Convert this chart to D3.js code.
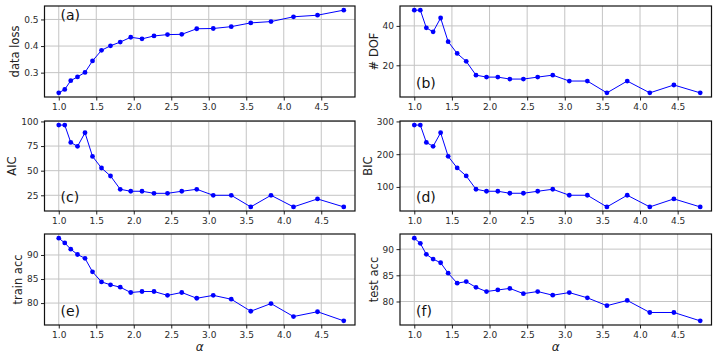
<!DOCTYPE html>
<html lang="en">
<head>
<meta charset="UTF-8">
<script src="https://d3js.org/d3.v7.min.js"></script>
<style>
body {margin: 0; background: white;}
svg {display: block; font-family: "DejaVu Sans", sans-serif;}
.tick text {fill: #2a2a2a; font-size: 9px; font-family: "DejaVu Sans", sans-serif;}
.tick line {stroke: #222;}
.grid line {stroke: #c4c4c4; stroke-width: 1;}
</style>
</head>
<body>
<svg width="719" height="360"></svg>
<script>
var alpha = [1.00, 1.08, 1.16, 1.25, 1.35, 1.45, 1.57, 1.69, 1.82, 1.96, 2.11, 2.27, 2.45, 2.64, 2.84, 3.06, 3.30, 3.56, 3.83, 4.13, 4.45, 4.80];
var dataLoss = [0.224, 0.237, 0.270, 0.284, 0.301, 0.344, 0.384, 0.401, 0.415, 0.433, 0.427, 0.438, 0.443, 0.444, 0.465, 0.466, 0.473, 0.487, 0.492, 0.510, 0.516, 0.535];
var dof = [48, 48, 39, 37, 44, 32, 26, 22, 15, 14, 14, 13, 13, 14, 15, 12, 12, 6, 12, 6, 10, 6];
var aic = [96.3, 96.3, 78.7, 74.7, 88.5, 64.5, 52.7, 44.6, 31.1, 29.1, 29.1, 27.0, 27.0, 29.1, 31.1, 25.0, 25.0, 13.2, 25.0, 13.2, 21.3, 13.2];
var bic = [288.8, 288.8, 236, 223.9, 265.5, 193.4, 157.9, 133.5, 92.9, 86.8, 86.8, 80.7, 80.7, 86.8, 92.9, 74.6, 74.6, 39, 74.6, 39, 63.5, 39];
var trainAcc = [93.5, 92.5, 91.2, 90.1, 89.3, 86.5, 84.4, 83.8, 83.3, 82.2, 82.4, 82.4, 81.6, 82.2, 81.0, 81.6, 80.8, 78.3, 79.9, 77.2, 78.2, 76.3];
var testAcc = [92.1, 91.1, 89.0, 88.1, 87.4, 85.4, 83.5, 83.8, 82.7, 81.9, 82.2, 82.5, 81.5, 81.9, 81.2, 81.7, 80.7, 79.2, 80.2, 77.9, 77.9, 76.3];

var xTicks = [1.0, 1.5, 2.0, 2.5, 3.0, 3.5, 4.0, 4.5];
var yLabels = ["data loss", "# DOF", "AIC", "BIC", "train acc", "test acc"];
var panelTags = ["(a)", "(b)", "(c)", "(d)", "(e)", "(f)"];
var yTicks = [[0.3, 0.4, 0.5], [20, 40], [25, 50, 75, 100], [100, 200, 300], [80, 85, 90], [80, 85, 90]];
var series = [dataLoss, dof, aic, bic, trainAcc, testAcc];

var cols = [[44.5, 355], [400, 711.5]];
var rows = [[6, 97], [121, 211], [234, 325]];

var svg = d3.select("svg");

series.forEach(function(vals, i) {
    var c = cols[i % 2], r = rows[Math.floor(i / 2)];
    var w = c[1] - c[0], h = r[1] - r[0];
    var g = svg.append("g").attr("transform", "translate(" + c[0] + "," + r[0] + ")");

    var x = d3.scaleLinear().domain([0.81, 4.95]).range([0, w]);
    var lo = d3.min(vals), hi = d3.max(vals), m = (hi - lo) * 0.05;
    var y = d3.scaleLinear().domain([lo - m, hi + m]).range([h, 0]);

    g.append("g").attr("class", "grid")
        .selectAll("line").data(xTicks).enter().append("line")
        .attr("x1", d => x(d)).attr("x2", d => x(d)).attr("y1", 0).attr("y2", h);
    g.append("g").attr("class", "grid")
        .selectAll("line").data(yTicks[i]).enter().append("line")
        .attr("x1", 0).attr("x2", w).attr("y1", d => y(d)).attr("y2", d => y(d));

    var xa = g.append("g").attr("transform", "translate(0," + h + ")")
        .call(d3.axisBottom(x).tickValues(xTicks).tickFormat(d3.format(".1f")).tickSize(3.5).tickSizeOuter(0));
    var ya = g.append("g")
        .call(d3.axisLeft(y).tickValues(yTicks[i]).tickSize(3.5).tickSizeOuter(0).tickFormat(d3.format("")));
    xa.select(".domain").remove();
    ya.select(".domain").remove();
    xa.selectAll("text").attr("y", 6.5);
    ya.selectAll("text").attr("x", -6);

    var maxW = 0;
    ya.selectAll("text").each(function() { maxW = Math.max(maxW, this.getComputedTextLength()); });

    g.append("path")
        .datum(alpha.map((a, k) => [a, vals[k]]))
        .attr("fill", "none").attr("stroke", "#0000ff").attr("stroke-width", 1)
        .attr("d", d3.line().x(d => x(d[0])).y(d => y(d[1])));
    g.append("g").selectAll("circle")
        .data(alpha.map((a, k) => [a, vals[k]])).enter().append("circle")
        .attr("cx", d => x(d[0])).attr("cy", d => y(d[1])).attr("r", 2.4)
        .attr("fill", "#0000ff");

    g.append("rect").attr("width", w).attr("height", h)
        .attr("fill", "none").attr("stroke", "#111").attr("stroke-width", 1.2);

    g.append("text")
        .attr("transform", "translate(" + (-maxW - 15) + "," + (h / 2) + ") rotate(-90)")
        .attr("text-anchor", "middle").attr("dy", "0.35em")
        .attr("font-size", 11.5).attr("fill", "#222")
        .text(yLabels[i]);

    g.append("text")
        .attr("x", 16).attr("y", i == 0 ? 9 : h - 14)
        .attr("dy", "0.35em").attr("font-size", 14).attr("fill", "#111")
        .text(panelTags[i]);

    if (i >= 4) {
        g.append("text")
            .attr("x", w / 2).attr("y", h + 22)
            .attr("dy", "0.35em").attr("text-anchor", "middle")
            .attr("font-size", 12).attr("font-style", "italic").attr("fill", "#222")
            .text("α");
    }
});
</script>
</body>
</html>
